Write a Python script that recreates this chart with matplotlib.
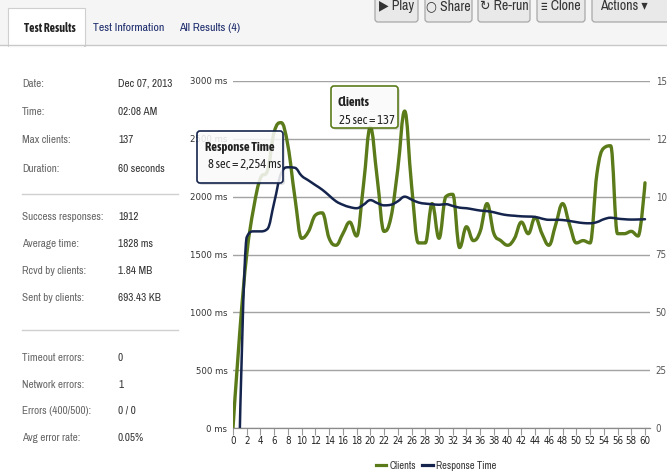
import numpy as np
import matplotlib
matplotlib.use("Agg")
import matplotlib.pyplot as plt
from matplotlib.path import Path
from matplotlib.patches import PathPatch, FancyBboxPatch, Rectangle
from matplotlib.transforms import IdentityTransform
from matplotlib.lines import Line2D

W, H = 667, 475

# ---- data ----
seconds = list(range(61))
clients = [0, 42, 75, 95, 108, 111, 128, 132, 122, 100,
           82, 85, 92, 93, 82, 79, 84, 89, 83, 105,
           130, 108, 85, 91, 112, 137, 105, 80, 80, 97,
           82, 100, 101, 78, 87, 81, 85, 97, 84, 81,
           79, 82, 89, 84, 91, 84, 79, 88, 97, 88,
           80, 81, 80, 110, 121, 122, 84, 84, 85, 83,
           106]
response_ms = [np.nan, 0, 1650, 1700, 1700, 1720, 1950, 2200, 2254, 2250,
               2180, 2140, 2100, 2060, 2010, 1960, 1930, 1910, 1900, 1930,
               1970, 1945, 1925, 1930, 1960, 2000, 1975, 1950, 1940, 1935,
               1930, 1935, 1920, 1905, 1900, 1890, 1880, 1875, 1865, 1850,
               1840, 1835, 1830, 1828, 1825, 1810, 1800, 1800, 1798, 1790,
               1780, 1772, 1770, 1780, 1805, 1818, 1810, 1805, 1802, 1803,
               1805]

ms_ticks = [0, 500, 1000, 1500, 2000, 2500, 3000]
client_ticks = [0, 25, 50, 75, 100, 125, 150]
x_ticks = list(range(0, 61, 2))

info_top = [("Date:", "Dec 07, 2013"), ("Time:", "02:08 AM"),
            ("Max clients:", "137"), ("Duration:", "60 seconds")]
info_mid = [("Success responses:", "1912"), ("Average time:", "1828 ms"),
            ("Rcvd by clients:", "1.84 MB"), ("Sent by clients:", "693.43 KB")]
info_bot = [("Timeout errors:", "0"), ("Network errors:", "1"),
            ("Errors (400/500):", "0 / 0"), ("Avg error rate:", "0.05%")]

tabs = ["Test Results", "Test Information", "All Results (4)"]
buttons = ["\u25b6 Play", "\u25cb Share", "\u21bb Re-run", "\u2261 Clone", "Actions \u25be"]

GREEN = "#5b7b1a"
NAVY = "#14244d"
NARROW = ["Archivo Narrow", "DejaVu Sans"]
COND = ["Asap Condensed", "DejaVu Sans"]

plt.rcParams["font.family"] = ["DejaVu Sans"]
plt.rcParams["font.stretch"] = "condensed"


def fx(x):
    return x / W


def fy(y):
    return 1 - y / H


def spline_path(xs, ys, smoothing=1.5):
    # highcharts-like spline: bezier controls clamped so peaks don't overshoot
    pts = [(x, y) for x, y in zip(xs, ys) if not np.isnan(y)]
    n = len(pts)
    left = [p for p in pts]
    right = [p for p in pts]
    d = smoothing + 1
    for i in range(1, n - 1):
        (lx, ly), (x, y), (nx, ny) = pts[i - 1], pts[i], pts[i + 1]
        lcx, lcy = (smoothing * x + lx) / d, (smoothing * y + ly) / d
        rcx, rcy = (smoothing * x + nx) / d, (smoothing * y + ny) / d
        corr = (rcy - lcy) * (rcx - x) / (rcx - lcx) + y - rcy
        lcy += corr
        rcy += corr
        if lcy > ly and lcy > y:
            lcy = max(ly, y)
            rcy = 2 * y - lcy
        elif lcy < ly and lcy < y:
            lcy = min(ly, y)
            rcy = 2 * y - lcy
        if rcy > ny and rcy > y:
            rcy = max(ny, y)
            lcy = 2 * y - rcy
        elif rcy < ny and rcy < y:
            rcy = min(ny, y)
            lcy = 2 * y - rcy
        left[i] = (lcx, lcy)
        right[i] = (rcx, rcy)
    verts = [pts[0]]
    codes = [Path.MOVETO]
    for i in range(1, n):
        verts += [right[i - 1], left[i], pts[i]]
        codes += [Path.CURVE4] * 3
    return Path(verts, codes)


def px_box(x0, y0, x1, y1, **kw):
    # box in screen pixels, y measured from the top
    return FancyBboxPatch((x0, H - y1), x1 - x0, y1 - y0,
                          transform=IdentityTransform(), **kw)


fig = plt.figure(figsize=(W / 100, H / 100), dpi=100)
fig.patch.set_facecolor("white")

# ---- header strip with tabs and buttons ----
fig.add_artist(Rectangle((0, fy(45)), 1, 45 / H, transform=fig.transFigure,
                         facecolor="#f5f5f5", edgecolor="none"))
fig.add_artist(Line2D([0, 1], [fy(45), fy(45)], transform=fig.transFigure,
                      color="#c8c8c8", lw=1))
fig.add_artist(Rectangle((fx(8), fy(46)), 77 / W, 38 / H, transform=fig.transFigure,
                         facecolor="white", edgecolor="#cfcfcf", lw=0.8))
fig.add_artist(Rectangle((fx(8.6), fy(47)), 75.8 / W, 3 / H, transform=fig.transFigure,
                         facecolor="white", edgecolor="none"))
tab_x = [50, 129, 210]
for i, (t, x) in enumerate(zip(tabs, tab_x)):
    fig.text(fx(x), fy(28), t, ha="center", va="center", fontsize=8.5,
             color="#222222" if i == 0 else "#1b2a6b",
             family=COND if i == 0 else NARROW,
             fontweight="bold" if i == 0 else "normal")

btn_x = [(375, 418), (425, 472), (478, 530), (537, 585), (592, 672)]
for label, (x0, x1) in zip(buttons, btn_x):
    fig.add_artist(px_box(x0, -8, x1, 22, boxstyle="round,pad=0,rounding_size=3",
                          facecolor="#e9e9e9", edgecolor="#a8a8a8", lw=0.9))
    cx = (x0 + x1) / 2 if x1 < 600 else x0 + 32
    fig.text(fx(cx), fy(6), label, ha="center", va="center", fontsize=10,
             color="#333333", family=NARROW)

# ---- left info panel ----
rows = [(info_top, [84, 112, 140, 169]),
        (info_mid, [217, 244, 271, 298]),
        (info_bot, [358, 385, 411, 438])]
for items, ys in rows:
    for (lab, val), y in zip(items, ys):
        fig.text(fx(22), fy(y), lab, ha="left", va="center", fontsize=8,
                 color="#666666", family=NARROW)
        fig.text(fx(118), fy(y), val, ha="left", va="center", fontsize=8,
                 color="#333333", family=NARROW)
for y in (194, 330):
    fig.add_artist(Line2D([fx(22), fx(178)], [fy(y), fy(y)],
                          transform=fig.transFigure, color="#d0d0d0", lw=1))

# ---- chart ----
ax = fig.add_axes([fx(233), fy(428), (650 - 233) / W, (428 - 81) / H])
axc = ax.twinx()
ax.set_xlim(0, 60 * 417 / 412)
ax.set_ylim(0, 3000)
axc.set_ylim(0, 150)

ax.set_yticks(ms_ticks)
ax.set_yticklabels([f"{v} ms" for v in ms_ticks])
axc.set_yticks(client_ticks)
axc.set_yticklabels([str(v) for v in client_ticks])
ax.set_xticks(x_ticks)
ax.set_xticklabels([str(v) for v in x_ticks])

ax.grid(axis="y", color="#a3a3a3", lw=1)
ax.set_axisbelow(True)
for a in (ax, axc):
    for s in ("top", "left", "right"):
        a.spines[s].set_visible(False)
    a.spines["bottom"].set_color("#8a8a8a")
    a.patch.set_visible(False)
ax.tick_params(axis="y", length=0, pad=4, labelsize=6.8, labelcolor="#333333")
axc.tick_params(axis="y", length=0, pad=4, labelsize=7, labelcolor="#555555")
ax.tick_params(axis="x", length=5, color="#9a9a9a", pad=1, labelsize=7,
               labelcolor="#222222")

green_line = PathPatch(spline_path(seconds, clients), fill=False,
                       edgecolor=GREEN, lw=2.4, capstyle="round", joinstyle="round")
axc.add_patch(green_line)
navy_line = PathPatch(spline_path(seconds, response_ms), fill=False,
                      edgecolor=NAVY, lw=1.8, capstyle="round", joinstyle="round",
                      transform=ax.transData)
axc.add_patch(navy_line)
navy_line.set_clip_path(axc.patch)

# ---- tooltips ----
tips = [((197, 131, 283, 183), NAVY, "Response Time", "8 sec = 2,254 ms", 205, 208),
        ((331, 86, 398, 128), GREEN, "Clients", "25 sec = 137", 337, 339)]
for (x0, y0, x1, y1), col, title, body, tx, bx in tips:
    fig.add_artist(px_box(x0 + 2, y0 + 2, x1 + 2, y1 + 2,
                          boxstyle="round,pad=0,rounding_size=3",
                          facecolor="black", edgecolor="none", alpha=0.12))
    fig.add_artist(px_box(x0, y0, x1, y1, boxstyle="round,pad=0,rounding_size=3",
                          facecolor=(1, 1, 1, 0.85), edgecolor=col, lw=1.2))
    fig.text(fx(tx), fy(y0 + 17), title, ha="left", va="center", fontsize=9,
             fontweight="bold", color="#222222", family=COND)
    fig.text(fx(bx), fy(y0 + 34), body, ha="left", va="center", fontsize=9,
             color="#222222", family=COND)

# ---- legend ----
handles = [Line2D([], [], color=GREEN, lw=2.3), Line2D([], [], color=NAVY, lw=2.3)]
fig.legend(handles, ["Clients", "Response Time"], loc="center",
           bbox_to_anchor=(fx(436), fy(466)), ncol=2, frameon=False,
           prop={"family": NARROW, "size": 7.5}, handlelength=1.0,
           handletextpad=0.3, columnspacing=0.6, labelcolor="#333333")

fig.savefig("out.png", dpi=100)
